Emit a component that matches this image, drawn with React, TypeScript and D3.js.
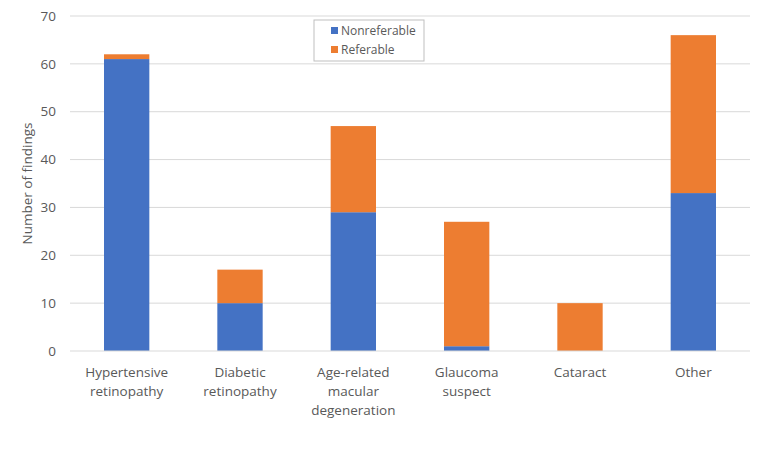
import React, { useEffect, useRef } from 'react';
import * as d3 from 'd3';

const categories = [
  ['Hypertensive', 'retinopathy'],
  ['Diabetic', 'retinopathy'],
  ['Age-related', 'macular', 'degeneration'],
  ['Glaucoma', 'suspect'],
  ['Cataract'],
  ['Other'],
];
const nonreferable = [61, 10, 29, 1, 0, 33];
const referable = [1, 7, 18, 26, 10, 33];
const seriesNames = ['Nonreferable', 'Referable'];
const colors = ['#4472C4', '#ED7D31'];
const yTicks = [0, 10, 20, 30, 40, 50, 60, 70];

export default function App() {
  const ref = useRef<SVGSVGElement>(null);

  useEffect(() => {
    const width = 765, height = 459;
    const margin = { left: 70, right: 15, top: 16, bottom: 108 };
    const svg = d3.select(ref.current);
    svg.selectAll('*').remove();
    const font = "'Open Sans', sans-serif";

    const x = d3.scaleBand()
      .domain(categories.map((d, i) => String(i)))
      .range([margin.left, width - margin.right])
      .paddingInner(0.6)
      .paddingOuter(0.3);
    const y = d3.scaleLinear().domain([0, 70]).range([height - margin.bottom, margin.top]);

    // gridlines
    svg.append('g').selectAll('line').data(yTicks.filter(t => t > 0)).enter().append('line')
      .attr('x1', margin.left).attr('x2', width - margin.right)
      .attr('y1', d => y(d)).attr('y2', d => y(d))
      .attr('stroke', '#D9D9D9').attr('stroke-width', 1);

    svg.append('g').selectAll('text').data(yTicks).enter().append('text')
      .attr('x', 56).attr('y', d => y(d)).attr('dy', '0.35em')
      .attr('text-anchor', 'end').attr('font-family', font).attr('font-size', 13.5)
      .attr('fill', '#595959').text(d => d);

    const rows = categories.map((c, i) => ({ key: String(i), nonreferable: nonreferable[i], referable: referable[i] }));
    const stack = d3.stack<any>().keys(['nonreferable', 'referable'])(rows);

    stack.forEach((layer, li) => {
      svg.append('g').selectAll('rect').data(layer).enter().append('rect')
        .attr('x', d => x(d.data.key)!)
        .attr('width', x.bandwidth())
        .attr('y', d => y(d[1]))
        .attr('height', d => y(d[0]) - y(d[1]))
        .attr('fill', colors[li]);
    });

    // axis line
    svg.append('line')
      .attr('x1', margin.left).attr('x2', width - margin.right)
      .attr('y1', y(0)).attr('y2', y(0))
      .attr('stroke', '#D9D9D9').attr('stroke-width', 1);

    // category labels
    const labels = svg.append('g');
    categories.forEach((lines, i) => {
      const cx = x(String(i))! + x.bandwidth() / 2;
      const t = labels.append('text')
        .attr('text-anchor', 'middle').attr('font-family', font).attr('font-size', 13.5)
        .attr('fill', '#595959');
      lines.forEach((l, j) => {
        t.append('tspan').attr('x', cx).attr('y', 377 + j * 19).text(l);
      });
    });

    // y axis title
    svg.append('text')
      .attr('transform', `translate(32,${(y(0) + y(70)) / 2}) rotate(-90)`)
      .attr('text-anchor', 'middle').attr('font-family', font).attr('font-size', 13.5)
      .attr('fill', '#595959').text('Number of findings');

    // legend
    const lg = svg.append('g').attr('transform', 'translate(314,20)');
    lg.append('rect').attr('width', 110).attr('height', 41)
      .attr('fill', '#fff').attr('stroke', '#BFBFBF').attr('stroke-width', 1);
    seriesNames.forEach((s, i) => {
      lg.append('rect').attr('x', 17).attr('y', 7 + i * 19).attr('width', 7).attr('height', 7).attr('fill', colors[i]);
      lg.append('text').attr('x', 27).attr('y', 11 + i * 19).attr('dy', '0.35em')
        .attr('font-family', font).attr('font-size', 12).attr('fill', '#595959').text(s);
    });
  }, []);

  return <svg ref={ref} width={765} height={459} style={{ display: 'block', margin: '-8px' }} />;
}
